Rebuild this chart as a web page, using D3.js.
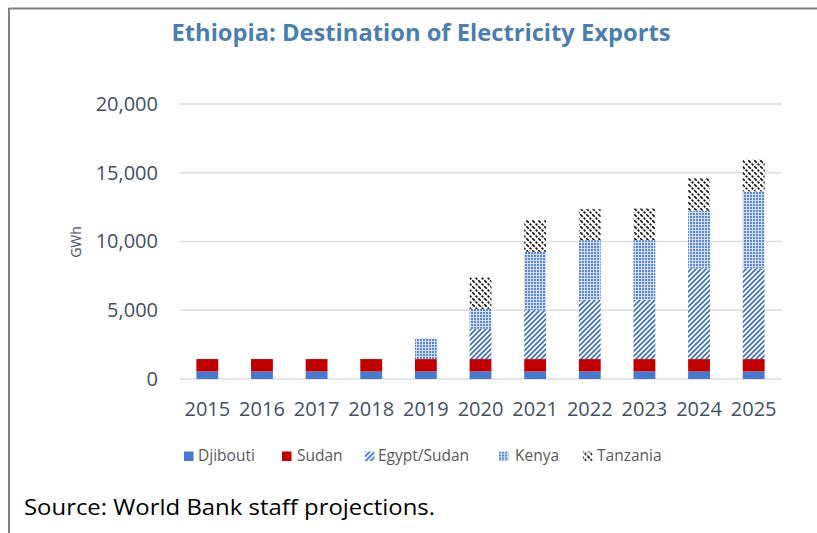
<!DOCTYPE html>
<html>
<head>
<meta charset="utf-8">
<script src="https://cdn.jsdelivr.net/npm/d3@7"></script>
<style>
  body { margin: 0; background: #fff; }
  svg { display: block; font-family: "Open Sans", sans-serif; }
</style>
</head>
<body>
<svg id="chart" width="817" height="533"></svg>
<script>
// chart data (GWh)
years = ["2015", "2016", "2017", "2018", "2019", "2020", "2021", "2022", "2023", "2024", "2025"]
djibouti   = [550, 550, 550, 550, 550, 550, 550, 550, 550, 550, 550]
sudan      = [900, 900, 900, 900, 900, 900, 900, 900, 900, 900, 900]
egyptSudan = [0, 0, 0, 0, 0, 2200, 3550, 4300, 4300, 6600, 6600]
kenya      = [0, 0, 0, 0, 1500, 1450, 4250, 4350, 4350, 4200, 5600]
tanzania   = [0, 0, 0, 0, 0, 2300, 2300, 2250, 2300, 2350, 2300]
seriesNames = ["Djibouti", "Sudan", "Egypt/Sudan", "Kenya", "Tanzania"]
yTickValues = [0, 5000, 10000, 15000, 20000]

let svg = d3.select("#chart")

// frame
svg.append("line").attr("x1", 9).attr("x2", 817).attr("y1", 8.5).attr("y2", 8.5)
    .style("stroke", "#7f7f7f").style("stroke-width", 2)
svg.append("line").attr("x1", 9).attr("x2", 9).attr("y1", 8).attr("y2", 533)
    .style("stroke", "#7f7f7f").style("stroke-width", 2)

// patterns
let defs = svg.append("defs")

let pEgypt = defs.append("pattern").attr("id", "pEgypt")
    .attr("patternUnits", "userSpaceOnUse").attr("width", 5).attr("height", 5)
pEgypt.append("rect").attr("width", 5).attr("height", 5).style("fill", "#ffffff")
pEgypt.append("path").attr("d", "M-1,6 L6,-1 M-1,1 L1,-1 M4,6 L6,4")
    .style("stroke", "#4472c4").style("stroke-width", 1.8)

let pKenya = defs.append("pattern").attr("id", "pKenya")
    .attr("patternUnits", "userSpaceOnUse").attr("width", 3).attr("height", 3)
pKenya.append("rect").attr("width", 3).attr("height", 3).style("fill", "#d3def4")
pKenya.append("rect").attr("width", 2).attr("height", 2).style("fill", "#5a86d2")

let pTanz = defs.append("pattern").attr("id", "pTanz")
    .attr("patternUnits", "userSpaceOnUse").attr("width", 6).attr("height", 6)
pTanz.append("rect").attr("width", 6).attr("height", 6).style("fill", "#ffffff")
pTanz.append("path").attr("d", "M-1,-1 L7,7 M5,-1 L7,1 M-1,5 L1,7")
    .style("stroke", "#111").style("stroke-width", 1.6)
    .style("stroke-dasharray", "2.5,1.2")

let fills = ["#4a78cc", "#c00000", "url(#pEgypt)", "url(#pKenya)", "url(#pTanz)"]

// title
svg.append("text").attr("x", 421).attr("y", 41).attr("text-anchor", "middle")
    .attr("textLength", 499).attr("lengthAdjust", "spacingAndGlyphs")
    .style("font-size", "23px").style("font-weight", "bold").style("fill", "#4a7eb0")
    .text("Ethiopia: Destination of Electricity Exports")

// scales
let x = d3.scaleBand().domain(years).range([180, 781]).paddingInner(0.6).paddingOuter(0.3)
let y = d3.scaleLinear().domain([0, 20000]).range([379, 104])

// grid lines
svg.append("g").selectAll("line").data(yTickValues).join("line")
    .attr("x1", 180).attr("x2", 782)
    .attr("y1", d => y(d)).attr("y2", d => y(d))
    .style("stroke", "#d9dde5").style("stroke-width", 1.5)

// y axis labels
let yAxis = d3.axisLeft(y).tickValues(yTickValues).tickFormat(d3.format(",")).tickSize(0).tickPadding(0)
let gy = svg.append("g").attr("transform", "translate(158,0)").call(yAxis)
gy.select(".domain").remove()
gy.selectAll("text").style("font-size", "20px").style("fill", "#44505f").style("font-family", "Open Sans")

// x axis labels
let xAxis = d3.axisBottom(x).tickSize(0).tickPadding(0)
let gx = svg.append("g").attr("transform", "translate(0,402)").call(xAxis)
gx.select(".domain").remove()
gx.selectAll("text").style("font-size", "20px").style("fill", "#44505f").style("font-family", "Open Sans")

// axis title
svg.append("text").attr("transform", "translate(81,242) rotate(-90)").attr("text-anchor", "middle")
    .style("font-size", "14px").style("fill", "#44505f").text("GWh")

// stacked bars
let table = years.map((yr, i) => ({
    year: yr, "Djibouti": djibouti[i], "Sudan": sudan[i], "Egypt/Sudan": egyptSudan[i],
    "Kenya": kenya[i], "Tanzania": tanzania[i]
}))
let stacked = d3.stack().keys(seriesNames)(table)

svg.append("g").selectAll("g").data(stacked).join("g")
    .style("fill", (d, i) => fills[i])
    .selectAll("rect").data(d => d).join("rect")
    .attr("x", d => x(d.data.year))
    .attr("width", x.bandwidth())
    .attr("y", d => y(d[1]))
    .attr("height", d => y(d[0]) - y(d[1]))

// legend
let legendX = [184, 282, 365, 499, 583]
let legend = svg.append("g").selectAll("g").data(seriesNames).join("g")
    .attr("transform", (d, i) => "translate(" + legendX[i] + ",451.5)")
legend.append("rect").attr("width", 9.5).attr("height", 9.5).style("fill", (d, i) => fills[i])
legend.append("text").attr("x", (d, i) => [14, 15, 13, 16, 14][i]).attr("y", 9.5)
    .style("font-size", "15.5px").style("fill", "#595959").text(d => d)

// source
svg.append("text").attr("x", 24).attr("y", 515)
    .style("font-size", "21px").style("fill", "#000")
    .attr("textLength", 411).attr("lengthAdjust", "spacingAndGlyphs")
    .text("Source: World Bank staff projections.")
</script>
</body>
</html>
